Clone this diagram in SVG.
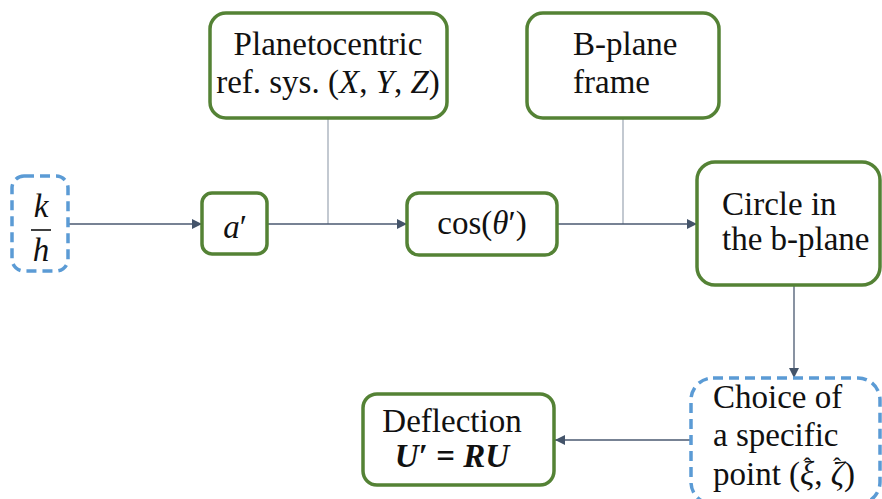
<svg xmlns="http://www.w3.org/2000/svg" width="882" height="499" viewBox="0 0 882 499">
<style>
.g{fill:#fff;stroke:#548235;stroke-width:3.5}
.b{fill:#fff;stroke:#5B9BD5;stroke-width:3.5;stroke-dasharray:10 6}
.t{font-family:"Liberation Serif","DejaVu Serif",serif;font-size:33px;fill:#111}
.i{font-style:italic}
.c{text-anchor:middle}
.ln{stroke:#4A5870;stroke-width:1.3;fill:none}
.lg{stroke:#A3ACB9;stroke-width:1.3;fill:none}
</style>
<defs>
<marker id="ah" viewBox="0 0 10 10" refX="10" refY="5" markerWidth="10" markerHeight="10" markerUnits="userSpaceOnUse" orient="auto">
<path d="M0,0 L10,5 L0,10 z" fill="#44546A"/>
</marker>
</defs>
<g id="connectors">
<line class="lg" x1="328" y1="118" x2="328" y2="224"/>
<line class="lg" x1="623" y1="118" x2="623" y2="224"/>
<line class="ln" x1="68" y1="224" x2="202" y2="224" marker-end="url(#ah)"/>
<line class="ln" x1="267" y1="224" x2="407" y2="224" marker-end="url(#ah)"/>
<line class="ln" x1="557" y1="224" x2="697" y2="224" marker-end="url(#ah)"/>
<line class="ln" x1="794" y1="286" x2="794" y2="378" marker-end="url(#ah)"/>
<line class="ln" x1="691" y1="440" x2="555" y2="440" marker-end="url(#ah)"/>
</g>
<g id="kh">
<rect class="b" x="12" y="176" width="56" height="95" rx="12"/>
<text class="t i c" x="41" y="217">k</text>
<line x1="31" y1="230" x2="51" y2="230" stroke="#111" stroke-width="1.6"/>
<text class="t i c" x="41" y="261">h</text>
</g>
<g id="aprime">
<rect class="g" x="202" y="193" width="65" height="61" rx="10"/>
<text class="t c" x="235" y="238"><tspan class="i">a</tspan>′</text>
</g>
<g id="planetocentric">
<rect class="g" x="210" y="13" width="237" height="105" rx="16"/>
<text class="t c" x="328" y="55">Planetocentric</text>
<text class="t c" x="328" y="93">ref. sys. (<tspan class="i">X</tspan>, <tspan class="i">Y</tspan>, <tspan class="i">Z</tspan>)</text>
</g>
<g id="cos">
<rect class="g" x="407" y="193" width="150" height="62" rx="12"/>
<text class="t c" x="482" y="234">cos(<tspan class="i">θ</tspan>′)</text>
</g>
<g id="bplane">
<rect class="g" x="527" y="13" width="192" height="105" rx="16"/>
<text class="t" x="573" y="55">B-plane</text>
<text class="t" x="573" y="93">frame</text>
</g>
<g id="circle">
<rect class="g" x="697" y="162" width="183" height="123" rx="18"/>
<text class="t" x="722" y="215">Circle in</text>
<text class="t" x="722" y="250">the b-plane</text>
</g>
<g id="choice">
<rect class="b" x="691" y="378" width="189" height="126" rx="22"/>
<text class="t" x="713" y="408">Choice of</text>
<text class="t" x="713" y="446">a specific</text>
<text class="t" x="713" y="485">point (<tspan class="i">ξ</tspan><tspan dx="-11" dy="-11" font-size="24">ˆ</tspan><tspan dx="3" dy="11">, </tspan><tspan class="i">ζ</tspan><tspan dx="-11" dy="-11" font-size="24">ˆ</tspan><tspan dx="3" dy="11">)</tspan></text>
</g>
<g id="deflection">
<rect class="g" x="363" y="394" width="191" height="91" rx="14"/>
<text class="t c" x="452" y="432">Deflection</text>
<text class="t c" x="452" y="467" font-weight="bold"><tspan class="i">U</tspan>′ = <tspan class="i">RU</tspan></text>
</g>
</svg>
